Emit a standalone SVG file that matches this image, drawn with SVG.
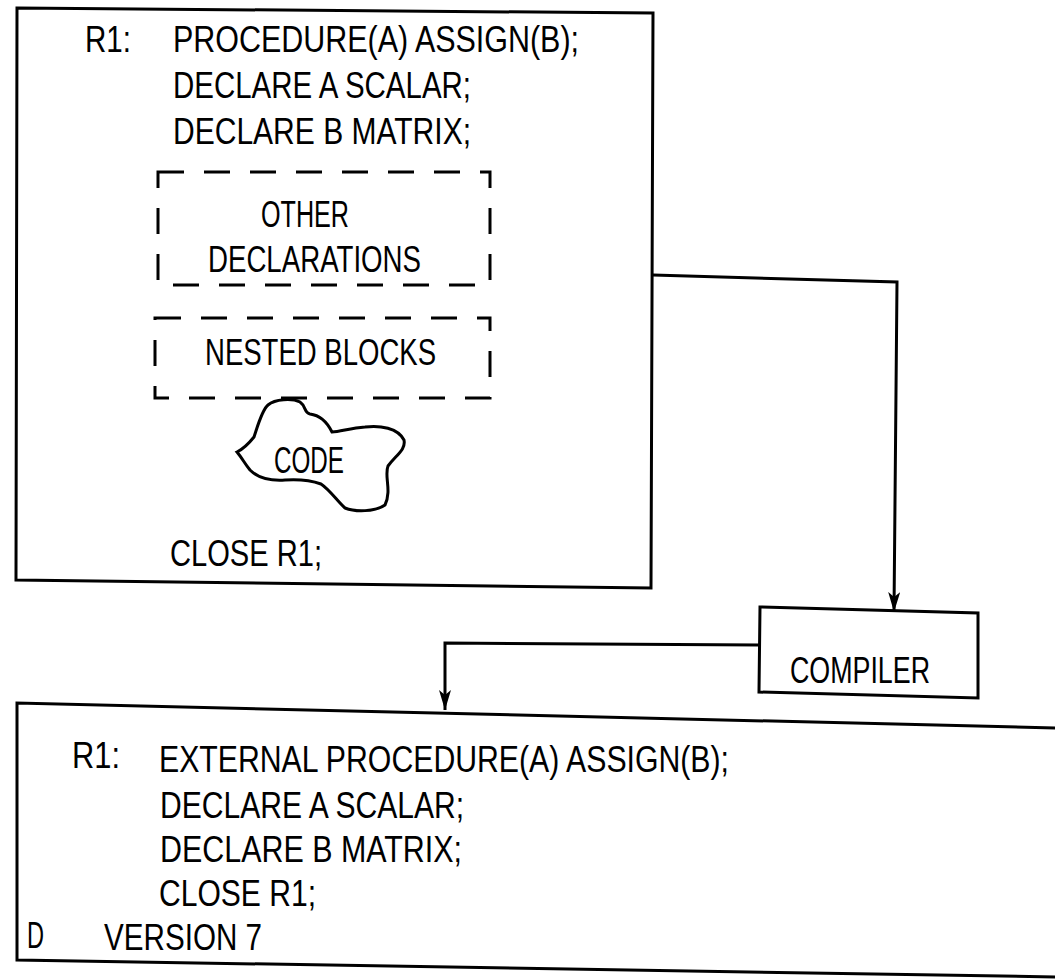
<svg xmlns="http://www.w3.org/2000/svg" width="1055" height="979" viewBox="0 0 1055 979">
<style>
.box{fill:none;stroke:#000;stroke-width:3;stroke-linejoin:miter}
.dash{fill:none;stroke:#000;stroke-width:3;stroke-dasharray:26 20}
.con{fill:none;stroke:#000;stroke-width:3}
.t{font-family:"Liberation Sans",Arial,sans-serif;fill:#000}
.t1{font-size:37px}
.t2{font-size:36px}
</style>
<defs>
<marker id="arr" viewBox="0 0 20 12" refX="20" refY="6" markerWidth="20" markerHeight="12" markerUnits="userSpaceOnUse" orient="auto">
<path d="M0,0 L20,6 L0,12 L5,6 Z" fill="#000"/>
</marker>
</defs>
<rect width="1055" height="979" fill="#fff"/>
<g id="source">
<path class="box" d="M17,8 L653,13 L651,588 L16,580 Z"/>
<text class="t t1" x="85" y="52" textLength="46" lengthAdjust="spacingAndGlyphs">R1:</text>
<text class="t t1" x="173" y="52" textLength="406" lengthAdjust="spacingAndGlyphs">PROCEDURE(A) ASSIGN(B);</text>
<text class="t t1" x="173" y="98" textLength="298" lengthAdjust="spacingAndGlyphs">DECLARE A SCALAR;</text>
<text class="t t1" x="173" y="144" textLength="298" lengthAdjust="spacingAndGlyphs">DECLARE B MATRIX;</text>
<text class="t t1" x="170" y="566" textLength="152" lengthAdjust="spacingAndGlyphs">CLOSE R1;</text>
</g>
<g id="other-declarations">
<rect class="dash" x="158" y="172" width="332" height="113"/>
<text class="t t1" x="261" y="227" textLength="88" lengthAdjust="spacingAndGlyphs">OTHER</text>
<text class="t t1" x="208" y="272" textLength="213" lengthAdjust="spacingAndGlyphs">DECLARATIONS</text>
</g>
<g id="nested-blocks">
<rect class="dash" x="155" y="318" width="335" height="80"/>
<text class="t t1" x="205" y="365" textLength="231" lengthAdjust="spacingAndGlyphs">NESTED BLOCKS</text>
</g>
<g id="code">
<path class="box" d="M237,452 C245,448 250,442 254,437 C258,425 262,410 268,405 C275,399 292,398 300,402 C306,406 304,413 310,414 C318,415 326,420 332,432 C340,432 350,428 365,427 C380,425 398,428 404,440 C406,450 396,455 388,466 C384,476 392,490 385,505 C375,512 355,512 345,508 C338,502 330,490 321,484 C310,480 300,479 285,480 C270,481 258,478 250,470 C245,464 242,458 237,452 Z"/>
<text class="t t1" x="274" y="473" textLength="70" lengthAdjust="spacingAndGlyphs">CODE</text>
</g>
<g id="compiler">
<path class="box" d="M760,607 L978,613 L978,698 L759,692 Z"/>
<text class="t t1" x="790" y="683" textLength="140" lengthAdjust="spacingAndGlyphs">COMPILER</text>
</g>
<g id="output">
<path class="box" d="M1060,728 L17,703 L17,960 L1060,977"/>
<text class="t t2" x="72" y="768" textLength="48" lengthAdjust="spacingAndGlyphs">R1:</text>
<text class="t t2" x="159" y="772" textLength="570" lengthAdjust="spacingAndGlyphs">EXTERNAL PROCEDURE(A) ASSIGN(B);</text>
<text class="t t2" x="160" y="818" textLength="304" lengthAdjust="spacingAndGlyphs">DECLARE A SCALAR;</text>
<text class="t t2" x="160" y="862" textLength="302" lengthAdjust="spacingAndGlyphs">DECLARE B MATRIX;</text>
<text class="t t2" x="159" y="906" textLength="157" lengthAdjust="spacingAndGlyphs">CLOSE R1;</text>
<text class="t t2" x="27" y="948" textLength="17" lengthAdjust="spacingAndGlyphs">D</text>
<text class="t t2" x="104" y="950" textLength="158" lengthAdjust="spacingAndGlyphs">VERSION 7</text>
</g>
<g id="connectors">
<path class="con" d="M653,275 L897,282 L894,612" marker-end="url(#arr)"/>
<path class="con" d="M759,645 L445,643 L445,710" marker-end="url(#arr)"/>
</g>
</svg>
